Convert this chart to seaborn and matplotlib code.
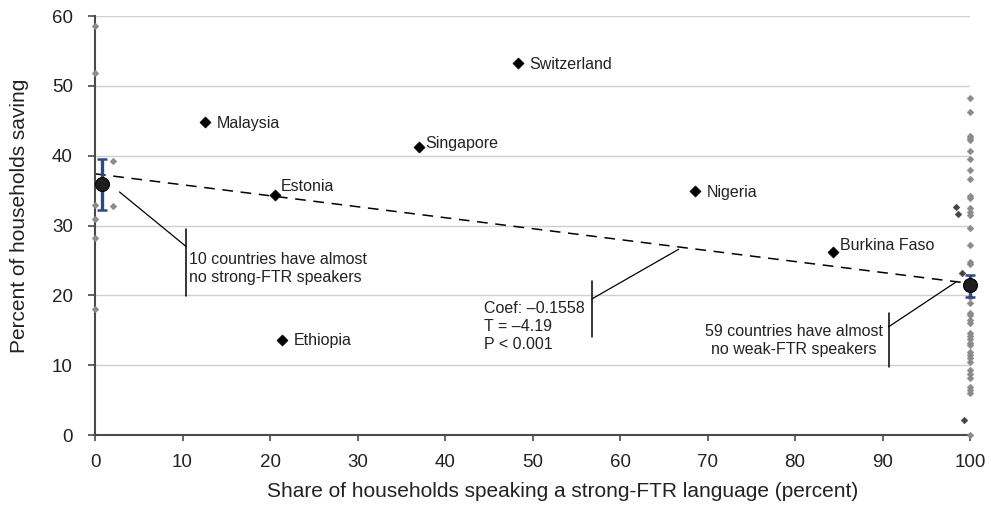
import matplotlib
matplotlib.use('Agg')
import matplotlib.pyplot as plt
import seaborn as sns
import pandas as pd

sns.set_style('white')
plt.rcParams['font.family'] = ['Liberation Sans', 'DejaVu Sans']

# named countries (diamonds)
countries = ['Switzerland', 'Malaysia', 'Singapore', 'Estonia', 'Nigeria', 'Burkina Faso', 'Ethiopia']
country_x = [48.3, 12.6, 37.0, 20.6, 68.6, 84.3, 21.4]
country_y = [53.3, 44.8, 41.2, 34.4, 34.9, 26.2, 13.6]

# countries with almost no strong-FTR speakers (left edge)
left_x = [0, 0, 0, 0, 0, 0, 2.1, 2.1]
left_y = [58.5, 51.9, 33.0, 31.0, 28.2, 18.1, 39.3, 32.8]

# countries with almost no weak-FTR speakers (right edge)
right_y = [48.2, 46.3, 42.8, 42.5, 42.2, 40.7, 39.5, 37.9, 36.6, 34.2, 33.9,
           32.5, 32.0, 31.5, 29.6, 27.2, 24.8, 24.5, 19.8, 18.9, 17.2, 17.4,
           16.5, 16.1, 14.6, 14.2, 13.7, 13.2, 12.9, 11.9, 11.5, 11.0, 10.5,
           9.3, 8.8, 8.1, 6.9, 6.4, 6.0, 0.0]
right_x = [100] * len(right_y)
# a few darker points just left of 100
dark_x = [98.4, 98.6, 99.1, 99.3]
dark_y = [32.6, 31.7, 23.2, 2.1]

# group means with error bars
mean_x = [0.8, 100]
mean_y = [35.9, 21.5]
err_lo = [32.2, 19.8]
err_hi = [39.5, 22.9]

# fitted line
fit_x = [0, 100]
fit_y = [37.4, 21.7]

fig = plt.figure(figsize=(9.91, 5.08), dpi=100)
ax = fig.add_axes([0.0959, 0.1437, 0.8830, 0.8248])

grey = pd.DataFrame({'x': left_x + right_x, 'y': left_y + right_y})
sns.scatterplot(data=grey, x='x', y='y', marker='D', s=12, color='#8a8a8a',
                edgecolor='#8a8a8a', linewidth=0.3, ax=ax, clip_on=False, zorder=3)
sns.scatterplot(x=dark_x, y=dark_y, marker='D', s=12, color='#444444',
                edgecolor='#444444', linewidth=0.3, ax=ax, clip_on=False, zorder=3)

sns.lineplot(x=fit_x, y=fit_y, color='black', lw=1.1, ax=ax, zorder=2,
             linestyle=(0, (7, 5)))

for mx, lo, hi in zip(mean_x, err_lo, err_hi):
    ax.errorbar([mx], [(lo + hi) / 2], yerr=[[(hi - lo) / 2], [(hi - lo) / 2]],
                fmt='none', ecolor='#2c4a86', elinewidth=2.4, capsize=3.5,
                capthick=1.8, zorder=4, clip_on=False)
sns.scatterplot(x=mean_x, y=mean_y, s=100, color='#1e1e1e', edgecolor='black',
                linewidth=0.8, ax=ax, zorder=5, clip_on=False)

sns.scatterplot(x=country_x, y=country_y, marker='D', s=32, color='black',
                edgecolor='black', ax=ax, zorder=5)

label_offsets = {'Switzerland': (8, -1), 'Malaysia': (8, -1), 'Singapore': (5, 3),
                 'Estonia': (4, 6), 'Nigeria': (8, -1), 'Burkina Faso': (5, 5),
                 'Ethiopia': (8, 0)}
for name, cx, cy in zip(countries, country_x, country_y):
    ax.annotate(name, (cx, cy), xytext=label_offsets[name], textcoords='offset points',
                ha='left', va='center', fontsize=11.5, color='#222222')

note_font = dict(fontsize=11.5, color='#222222')
# left note
ax.plot([2.8, 10.4], [34.8, 27.0], color='black', lw=0.9)
ax.plot([10.4, 10.4], [29.5, 19.9], color='black', lw=1.1)
ax.text(10.7, 23.8, '10 countries have almost\nno strong-FTR speakers', ha='left',
        va='center', linespacing=1.25, **note_font)
# middle note
ax.plot([56.8, 66.7], [19.5, 26.6], color='black', lw=0.9)
ax.plot([56.8, 56.8], [22.0, 14.1], color='black', lw=1.1)
ax.text(44.5, 15.5, 'Coef: \u20130.1558\nT = \u20134.19\nP < 0.001', ha='left',
        va='center', linespacing=1.25, **note_font)
# right note
ax.plot([90.7, 98.5], [15.5, 22.0], color='black', lw=0.9)
ax.plot([90.7, 90.7], [17.4, 9.8], color='black', lw=1.1)
ax.text(90.0, 13.6, '59 countries have almost\nno weak-FTR speakers', ha='right',
        va='center', multialignment='center', linespacing=1.25, **note_font)

ax.set_xlim(0, 100)
ax.set_ylim(0, 60)
ax.set_xticks(range(0, 101, 10))
ax.set_yticks(range(0, 61, 10))
ax.yaxis.grid(True, color='#cfcfcf', lw=1)
ax.xaxis.grid(False)
ax.set_axisbelow(True)
sns.despine(ax=ax)
for side in ['left', 'bottom']:
    ax.spines[side].set_color('#4a4a4a')
    ax.spines[side].set_linewidth(1.5)
ax.tick_params(axis='y', direction='out', length=5, width=1.2, color='#4a4a4a',
               pad=11, labelsize=13.5, labelcolor='#222222', left=True)
ax.tick_params(axis='x', direction='out', length=4, width=1.2, color='#4a4a4a',
               pad=10, labelsize=13.5, labelcolor='#222222', bottom=True)
ax.set_xlabel('Share of households speaking a strong-FTR language (percent)',
              fontsize=15, color='#222222')
ax.set_ylabel('Percent of households saving', fontsize=15, color='#222222')
ax.xaxis.set_label_coords(0.534, -0.112)
ax.yaxis.set_label_coords(-0.075, 0.523)

fig.savefig('out.png', dpi=100)
